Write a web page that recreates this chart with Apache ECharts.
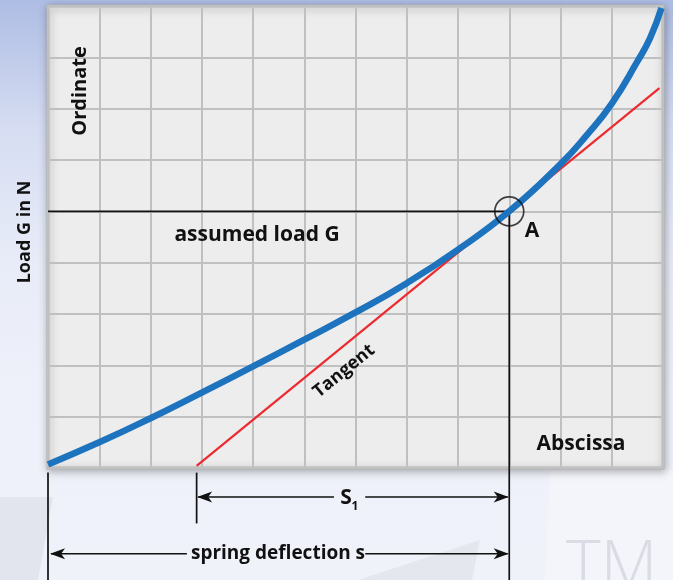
<!DOCTYPE html>
<html><head><meta charset="utf-8">
<script src="https://cdn.jsdelivr.net/npm/echarts@6/dist/echarts.min.js"></script>
<style>html,body{margin:0;padding:0;background:#eef1f9}#c{width:673px;height:580px}</style>
</head><body><div id="c"></div>
<script>
// ---- data (grid units: 12 columns x 9 rows) ----
const curveX = [0, 1, 2, 3, 4, 5, 6, 7, 8, 9, 10, 10.5, 11, 11.5, 11.75, 11.97];
const curveY = [0.07, 0.5, 0.97, 1.47, 1.98, 2.5, 3.03, 3.6, 4.255, 5.0, 5.92, 6.47, 7.1, 7.92, 8.38, 8.96];
const tangentX = [2.9, 11.93];
const tangentY = [0.04, 7.4];
const pointA = [9, 5];
// guide lines: [x1, y1, x2, y2, arrowAtEnd]
const guideLines = [
  [0, 5, 9, 5, 0],
  [9, 5, 9, -2.3, 0],
  [0, -0.09, 0, -2.3, 0],
  [2.9, -0.09, 2.9, -1.08, 0]
];
const arrowLines = [
  [5.58, -0.565, 2.93, -0.565, 1],
  [6.19, -0.565, 8.97, -0.565, 1],
  [2.71, -1.67, 0.06, -1.67, 1],
  [6.19, -1.67, 8.97, -1.67, 1]
];
const labels = {
  ordinate: 'Ordinate', abscissa: 'Abscissa', yName: 'Load G in N',
  load: 'assumed load G', point: 'A', tangent: 'Tangent',
  s1: 'S', s1sub: '1', deflection: 'spring deflection s', tm: 'TM'
};

const chart = echarts.init(document.getElementById('c'), null, {renderer: 'canvas'});
const FONT = '"Open Sans", "Noto Sans", sans-serif';
const ink = '#111111';

function annotationItem(params, api) {
  const p1 = api.coord([api.value(0), api.value(1)]);
  const p2 = api.coord([api.value(2), api.value(3)]);
  const arrow = api.value(4);
  const children = [{type: 'line', shape: {x1: p1[0], y1: p1[1], x2: p2[0], y2: p2[1]},
    style: {stroke: ink, lineWidth: 1.7}}];
  if (arrow) {
    const ang = Math.atan2(p2[1] - p1[1], p2[0] - p1[0]);
    const c = Math.cos(ang), s = Math.sin(ang);
    const L = 14, W = 5.5, N = 10;
    const pt = (dx, dy) => [p2[0] + dx * c - dy * s, p2[1] + dx * s + dy * c];
    children.push({type: 'polygon', shape: {points: [pt(1, 0), pt(-L, -W), pt(-N, 0), pt(-L, W)]},
      style: {fill: ink}});
  }
  return {type: 'group', children};
}

function txt(text, x, y, size, extra) {
  return Object.assign({type: 'text', x, y, z: 100,
    style: Object.assign({text, fontFamily: FONT, fontWeight: 'bold', fontSize: size, fill: ink,
      align: 'center', verticalAlign: 'middle'}, (extra && extra.style) || {})},
    extra ? {rotation: extra.rotation || 0} : {});
}

const option = {
  animation: false,
  grid: {left: 48, top: 6, width: 615, height: 462, show: true, backgroundColor: '#ededed',
    borderColor: '#b4b4b4', borderWidth: 3, shadowBlur: 8, shadowColor: 'rgba(0,0,0,0.28)', shadowOffsetY: 2, shadowOffsetX: 1},
  xAxis: {type: 'value', min: 0, max: 12, interval: 1,
    axisLine: {show: false}, axisTick: {show: false}, axisLabel: {show: false},
    splitLine: {show: true, lineStyle: {color: '#c0c0c0', width: 2}}},
  yAxis: {type: 'value', min: 0, max: 9, interval: 1,
    axisLine: {show: false}, axisTick: {show: false}, axisLabel: {show: false},
    splitLine: {show: true, lineStyle: {color: '#c0c0c0', width: 2}}},
  graphic: [
    {type: 'rect', z: -100, shape: {x: 0, y: 0, width: 673, height: 580},
      style: {fill: new echarts.graphic.LinearGradient(0, 0, 0, 1, [
        {offset: 0, color: '#aebde4'}, {offset: 0.22, color: '#d6ddf2'},
        {offset: 0.45, color: '#e8ecf8'}, {offset: 0.7, color: '#eff1fa'}, {offset: 1, color: '#f0f2fa'}])}},
    {type: 'polygon', z: -99, shape: {points: [[0, 497], [53, 497], [38, 580], [0, 580]]}, style: {fill: '#e2e5ed'}},
    {type: 'polygon', z: -99, shape: {points: [[358, 580], [480, 540], [472, 580]]}, style: {fill: '#e5e7ef'}},
    {type: 'polygon', z: -99, shape: {points: [[550, 470], [673, 470], [673, 580], [545, 580]]}, style: {fill: '#f4f5fa'}},
    {type: 'text', z: -98, x: 566, y: 536, style: {text: labels.tm, fontFamily: FONT, fontWeight: 300, fontSize: 66,
      fill: '#d9dce4', align: 'left', verticalAlign: 'top'}},
    txt(labels.ordinate, 80, 91, 20, {rotation: Math.PI / 2}),
    txt(labels.yName, 25, 232, 18, {rotation: Math.PI / 2}),
    txt(labels.load, 257, 235, 21),
    txt(labels.point, 532, 231, 21),
    txt(labels.tangent, 344, 371, 18, {rotation: Math.atan(0.814)}),
    txt(labels.abscissa, 581, 444, 21),
    txt(labels.s1, 346, 498, 21),
    txt(labels.s1sub, 355, 507, 12),
    txt(labels.deflection, 278, 554, 19)
  ],
  series: [
    {type: 'custom', z: 3, clip: false, renderItem: annotationItem, data: guideLines.concat(arrowLines), silent: true},
    {type: 'line', z: 4, data: tangentX.map((x, i) => [x, tangentY[i]]), symbol: 'none', clip: false,
      lineStyle: {color: '#ec2a30', width: 2.2}},
    {type: 'line', z: 5, data: curveX.map((x, i) => [x, curveY[i]]), symbol: 'none', smooth: 0.5, clip: false,
      lineStyle: {color: '#1d73bd', width: 6.5}},
    {type: 'scatter', z: 6, data: [pointA], symbol: 'circle', symbolSize: 29, silent: true,
      itemStyle: {color: 'rgba(0,0,0,0)', borderColor: ink, borderWidth: 1.7}}
  ]
};
chart.setOption(option);
</script></body></html>
